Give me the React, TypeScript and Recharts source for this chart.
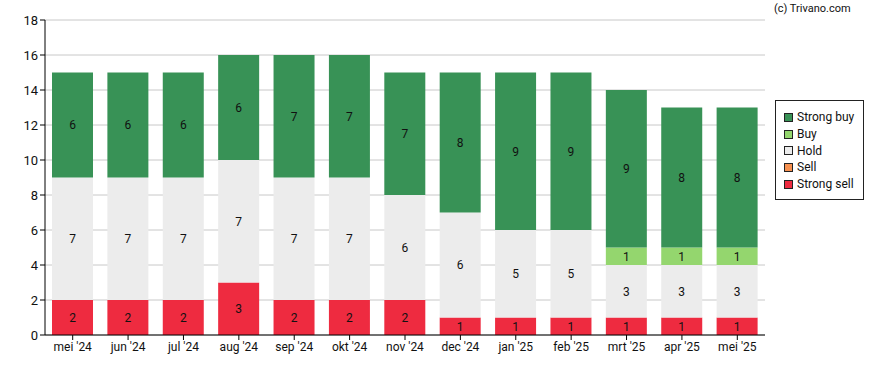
import React from 'react';
import { BarChart, Bar, XAxis, YAxis, CartesianGrid, LabelList } from 'recharts';

const months = ["mei '24", "jun '24", "jul '24", "aug '24", "sep '24", "okt '24", "nov '24", "dec '24", "jan '25", "feb '25", "mrt '25", "apr '25", "mei '25"];
const strongSell = [2, 2, 2, 3, 2, 2, 2, 1, 1, 1, 1, 1, 1];
const sell = [0, 0, 0, 0, 0, 0, 0, 0, 0, 0, 0, 0, 0];
const hold = [7, 7, 7, 7, 7, 7, 6, 6, 5, 5, 3, 3, 3];
const buy = [0, 0, 0, 0, 0, 0, 0, 0, 0, 0, 1, 1, 1];
const strongBuy = [6, 6, 6, 6, 7, 7, 7, 8, 9, 9, 9, 8, 8];
const yTicks = [0, 2, 4, 6, 8, 10, 12, 14, 16, 18];

const series = [
  { key: 'strongSell', name: 'Strong sell', color: '#ee2b40' },
  { key: 'sell', name: 'Sell', color: '#f6904f' },
  { key: 'hold', name: 'Hold', color: '#ececec' },
  { key: 'buy', name: 'Buy', color: '#94d66e' },
  { key: 'strongBuy', name: 'Strong buy', color: '#389256' },
];

const data = months.map((m, i) => ({
  month: m,
  strongSell: strongSell[i],
  sell: sell[i],
  hold: hold[i],
  buy: buy[i],
  strongBuy: strongBuy[i],
}));

const font = 'Roboto, sans-serif';

const LegendBox = () => (
  <div style={{ position: 'absolute', left: 775, top: 100, width: 89, height: 100, border: '1px solid #222', padding: '8px 0 0 8px', background: '#fff', boxSizing: 'border-box' }}>
    {[...series].reverse().map((s) => (
      <div key={s.key} style={{ display: 'flex', alignItems: 'center', height: 16.7, fontSize: 12, color: '#111', fontFamily: font, whiteSpace: 'nowrap' }}>
        <span style={{ display: 'inline-block', width: 7, height: 7, border: '1px solid #222', background: s.color, marginRight: 4, flexShrink: 0 }} />
        {s.name}
      </div>
    ))}
  </div>
);

export default function App() {
  return (
    <div style={{ position: 'absolute', left: 0, top: 0, width: 888, height: 370, background: '#fff', fontFamily: font }}>
      <div style={{ position: 'absolute', left: 774, top: 2, fontSize: 11, color: '#111', fontFamily: font }}>(c) Trivano.com</div>
      <BarChart width={888} height={370} data={data} margin={{ top: 20, right: 123, bottom: 0, left: 0 }} barSize={41}>
        <CartesianGrid vertical={false} stroke="#c8c8c8" />
        <XAxis dataKey="month" height={35} tick={{ fontSize: 12, fill: '#111', fontFamily: font }} tickSize={5} stroke="#000" tickLine={{ stroke: '#000' }} axisLine={{ stroke: '#000' }} interval={0} />
        <YAxis width={45} domain={[0, 18]} ticks={yTicks} tick={{ fontSize: 13, fill: '#111', fontFamily: font }} tickSize={5} stroke="#000" axisLine={{ stroke: '#000' }} tickLine={{ stroke: '#000' }} interval={0} />
        {series.map((s) => (
          <Bar key={s.key} dataKey={s.key} name={s.name} stackId="a" fill={s.color} isAnimationActive={false}>
            <LabelList dataKey={s.key} position="center" formatter={(v: any) => (v ? v : '')} style={{ fontSize: 12, fill: '#111', fontFamily: font }} />
          </Bar>
        ))}
      </BarChart>
      <LegendBox />
    </div>
  );
}
